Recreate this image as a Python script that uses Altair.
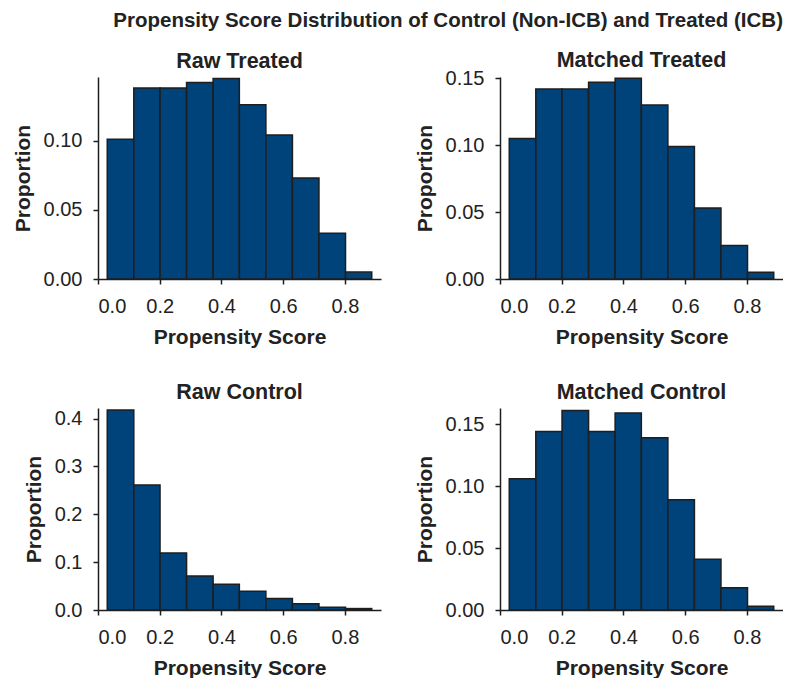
import altair as alt
import pandas as pd

bin_edges = [0.030, 0.116, 0.201, 0.287, 0.373, 0.458, 0.544, 0.630, 0.716, 0.802, 0.887]
raw_treated = [0.101, 0.138, 0.138, 0.142, 0.145, 0.126, 0.104, 0.073, 0.033, 0.005]
matched_treated = [0.105, 0.142, 0.142, 0.147, 0.150, 0.130, 0.099, 0.053, 0.025, 0.005]
raw_control = [0.418, 0.261, 0.119, 0.071, 0.054, 0.039, 0.024, 0.013, 0.006, 0.003]
matched_control = [0.106, 0.144, 0.161, 0.144, 0.159, 0.139, 0.089, 0.041, 0.018, 0.003]

x_ticks = [0.0, 0.2, 0.4, 0.6, 0.8]
FONT = "Liberation Sans"
FILL = "#00427A"
EDGE = "#1e1e1e"


def panel(title, values, ymax, yticks, yfmt, title_offset=5):
    df = pd.DataFrame({
        "start": bin_edges[:-1],
        "end": bin_edges[1:],
        "value": values,
    })
    return alt.Chart(df, title=alt.TitleParams(title, fontSize=21.5, fontWeight="bold",
                                               font=FONT, color="#222",
                                               offset=title_offset)).mark_rect(
        fill=FILL, stroke=EDGE, strokeWidth=1.5
    ).encode(
        x=alt.X("start:Q", scale=alt.Scale(domain=[0, 0.917], nice=False, zero=False),
                axis=alt.Axis(values=x_ticks, format=".1f", title="Propensity Score",
                              labelPadding=12, titlePadding=10)),
        x2="end:Q",
        y=alt.Y("value:Q", scale=alt.Scale(domain=[0, ymax], nice=False),
                axis=alt.Axis(values=yticks, format=yfmt, title="Proportion",
                              labelPadding=11, titlePadding=10)),
        y2=alt.datum(0),
    ).properties(width=283, height=202)


p1 = panel("Raw Treated", raw_treated, 0.146, [0.0, 0.05, 0.10], ".2f")
p2 = panel("Matched Treated", matched_treated, 0.151, [0.0, 0.05, 0.10, 0.15], ".2f",
           title_offset=-3)
p3 = panel("Raw Control", raw_control, 0.422, [0.0, 0.1, 0.2, 0.3, 0.4], ".1f")
p4 = panel("Matched Control", matched_control, 0.163, [0.0, 0.05, 0.10, 0.15], ".2f")

chart = alt.vconcat(
    alt.hconcat(p1, p2, spacing=33),
    alt.hconcat(p3, p4, spacing=33),
    spacing=34,
).properties(
    background="white",
    padding={"top": 3, "left": 4, "right": 0, "bottom": 0},
    title=alt.TitleParams(
        "Propensity Score Distribution of Control (Non-ICB) and Treated (ICB)",
        fontSize=20.5, fontWeight="bold", font=FONT, color="#222", anchor="end",
        offset=18,
    ),
).resolve_scale(y="independent", x="independent").configure_view(
    stroke=None
).configure_axis(
    grid=False,
    domainColor=EDGE, domainWidth=1.5,
    tickColor=EDGE, tickWidth=1.5, tickSize=5,
    labelFont=FONT, labelFontSize=20, labelColor="#222",
    titleFont=FONT, titleFontSize=21, titleFontWeight="bold", titleColor="#222",
)

chart.save("out.html", embed_options={"renderer": "svg", "actions": False})
